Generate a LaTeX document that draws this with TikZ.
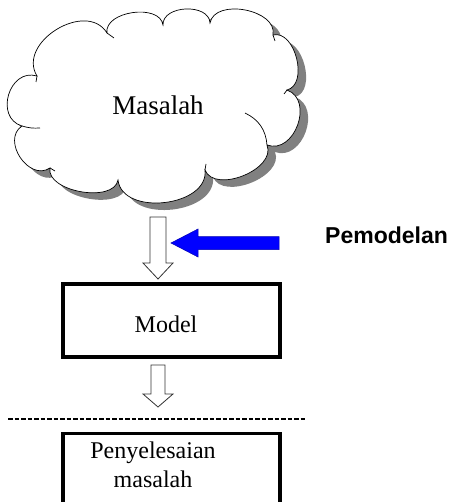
\documentclass[tikz,border=0pt]{standalone}
\usepackage{fontspec}
\setmainfont{Liberation Serif}
\setsansfont{Liberation Sans}
\usepackage{tikz}
\usetikzlibrary{positioning}

\newcommand{\cloudpath}{(37,76) to[bend left=90,looseness=1.22] (107,33)
	to[bend left=90,looseness=1.0] (163,25)
	to[bend left=90,looseness=1.09] (210,23)
	to[bend left=90,looseness=1.03] (273,35)
	to[bend left=90,looseness=1.03] (287,90)
	to[bend left=90,looseness=1.28] (267,145)
	to[bend left=90,looseness=1.0] (205,170)
	to[bend left=90,looseness=1.08] (118,180)
	to[bend left=90,looseness=0.89] (50,168)
	to[bend left=90,looseness=1.28] (22,126)
	to[bend left=90,looseness=1.43] (37,76) -- cycle}

\begin{document}
\begin{tikzpicture}[x=1pt,y=-1pt,
	hollow/.style={draw=black!80,fill=white,line width=0.8pt},
	box/.style={draw,line width=3.4pt,minimum width=217pt,minimum height=73pt,inner sep=0pt},
	txt/.style={font=\fontsize{24}{29}\selectfont,inner sep=0pt}]
				\clip (0,0) rectangle (452,502);
				\fill[black!50,shift={(8,7)}] \cloudpath;
				\filldraw[fill=white,draw=black,line width=0.7pt] \cloudpath;
				\draw[line width=0.7pt] (107,33) -- (114,38);
				\draw[line width=0.7pt] (273,35) -- (275,41);
				\draw[line width=0.7pt] (287,90) -- (284,94);
				\draw[line width=0.7pt] (245,113) to[bend left=30] (267,145);
				\draw[line width=0.7pt] (205,170) -- (206,164);
				\draw[line width=0.7pt] (50,168) -- (55,171);
				\draw[line width=0.7pt] (22,126) to[bend right=10] (40,128);
				\draw[line width=0.7pt] (37,76) -- (36,82);
				\node[txt,font=\fontsize{27}{29}\selectfont] (masalah) at (158,105) {Masalah};
				\coordinate [] (cloudbottom) at (158,217) ;
				\coordinate [] (modelbottom) at (158,365) ;
				\filldraw[hollow] (cloudbottom) ++(-8,0) -- ++(0,46) -- ++(-7,0) -- ++(15,16) -- ++(15,-16) -- ++(-7,0) -- ++(0,-46) -- cycle;
				\filldraw[fill=blue,draw=blue!70!black,line width=0.5pt] (279,236.5) -- (198,236.5) -- (198,229) -- (171,243) -- (198,257) -- (198,249.5) -- (279,249.5) -- cycle;
				\node[anchor=base west,inner sep=0pt,font=\sffamily\bfseries\fontsize{23}{26}\selectfont] (pemodelan) at (325,243) {Pemodelan};
				\node[box] (model) at (171.5,320.5) {};
				\node[txt] (modeltext) at (166,324) {Model};
				\filldraw[hollow] (modelbottom) ++(-7,0) -- ++(0,29) -- ++(-8,0) -- ++(15,13) -- ++(15,-13) -- ++(-8,0) -- ++(0,-29) -- cycle;
				\coordinate [] (dashleft) at (8,419) ;
				\coordinate [] (dashright) at (307,419) ;
				\draw[line width=1.8pt,dash pattern=on 4.5pt off 2pt] (dashleft) -- (dashright);
				\node[box,minimum height=100pt,anchor=north] (solution) at (171.5,432) {};
				\node[txt,align=center] (solutiontext) at (153,464.5) {Penyelesaian\\masalah};
			\end{tikzpicture}
\end{document}
